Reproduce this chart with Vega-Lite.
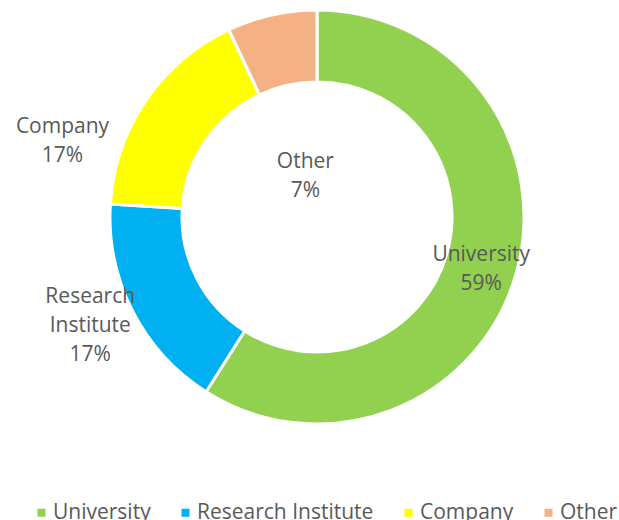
{
  "$schema": "https://vega.github.io/schema/vega-lite/v6.json",
  "width": 604,
  "height": 434,
  "padding": {"left": 15, "top": 0, "right": 0, "bottom": 0},
  "background": "white",
  "config": {"view": {"stroke": null}, "font": "Open Sans"},
  "data": {"values": [
    {"category": "University", "share": 59, "rank": 1, "label": "University\n59%"},
    {"category": "Research Institute", "share": 17, "rank": 2, "label": "Research\nInstitute\n17%"},
    {"category": "Company", "share": 17, "rank": 3, "label": "Company\n17%"},
    {"category": "Other", "share": 7, "rank": 4, "label": "Other\n7%"}
  ]},
  "layer": [
    {
      "mark": {"type": "arc", "outerRadius": 207, "innerRadius": 135, "stroke": "white", "strokeWidth": 3},
      "encoding": {
        "theta": {"field": "share", "type": "quantitative", "stack": true, "scale": {"domain": [0, 100]}},
        "order": {"field": "rank", "type": "quantitative"},
        "color": {
          "field": "category", "type": "nominal",
          "scale": {"domain": ["University", "Research Institute", "Company", "Other"], "range": ["#92D050", "#00B0F0", "#FFFF00", "#F4B183"]},
          "legend": {"orient": "bottom", "direction": "horizontal", "title": null, "symbolType": "square", "symbolSize": 64, "symbolStrokeWidth": 0, "labelFontSize": 21, "labelColor": "#595959", "columnPadding": 24, "labelOffset": 1, "offset": 52, "padding": 16, "labelLimit": 400}
        }
      }
    },
    {
      "transform": [
        {"stack": "share", "groupby": [], "as": ["t0", "t1"], "sort": [{"field": "rank"}]},
        {"calculate": "(datum.t0 + datum.t1) / 2", "as": "tmid"},
        {"filter": "datum.category === 'University'"}
      ],
      "mark": {"type": "text", "radius": 171, "dx": 0, "dy": -10, "lineBreak": "\n", "fontSize": 21, "color": "#595959", "align": "center", "baseline": "middle", "lineHeight": 29},
      "encoding": {"theta": {"field": "tmid", "type": "quantitative", "stack": null}, "text": {"field": "label"}}
    },
    {
      "transform": [
        {"stack": "share", "groupby": [], "as": ["t0", "t1"], "sort": [{"field": "rank"}]},
        {"calculate": "(datum.t0 + datum.t1) / 2", "as": "tmid"},
        {"filter": "datum.category === 'Research Institute'"}
      ],
      "mark": {"type": "text", "radius": 250, "dx": -4, "dy": -33, "lineBreak": "\n", "fontSize": 21, "color": "#595959", "align": "center", "baseline": "middle", "lineHeight": 29},
      "encoding": {"theta": {"field": "tmid", "type": "quantitative", "stack": null}, "text": {"field": "label"}}
    },
    {
      "transform": [
        {"stack": "share", "groupby": [], "as": ["t0", "t1"], "sort": [{"field": "rank"}]},
        {"calculate": "(datum.t0 + datum.t1) / 2", "as": "tmid"},
        {"filter": "datum.category === 'Company'"}
      ],
      "mark": {"type": "text", "radius": 240, "dx": -56, "dy": 45, "lineBreak": "\n", "fontSize": 21, "color": "#595959", "align": "center", "baseline": "middle", "lineHeight": 29},
      "encoding": {"theta": {"field": "tmid", "type": "quantitative", "stack": null}, "text": {"field": "label"}}
    },
    {
      "transform": [
        {"stack": "share", "groupby": [], "as": ["t0", "t1"], "sort": [{"field": "rank"}]},
        {"calculate": "(datum.t0 + datum.t1) / 2", "as": "tmid"},
        {"filter": "datum.category === 'Other'"}
      ],
      "mark": {"type": "text", "radius": 44, "dx": -2, "dy": -12, "lineBreak": "\n", "fontSize": 21, "color": "#595959", "align": "center", "baseline": "middle", "lineHeight": 29},
      "encoding": {"theta": {"field": "tmid", "type": "quantitative", "stack": null}, "text": {"field": "label"}}
    }
  ]
}
